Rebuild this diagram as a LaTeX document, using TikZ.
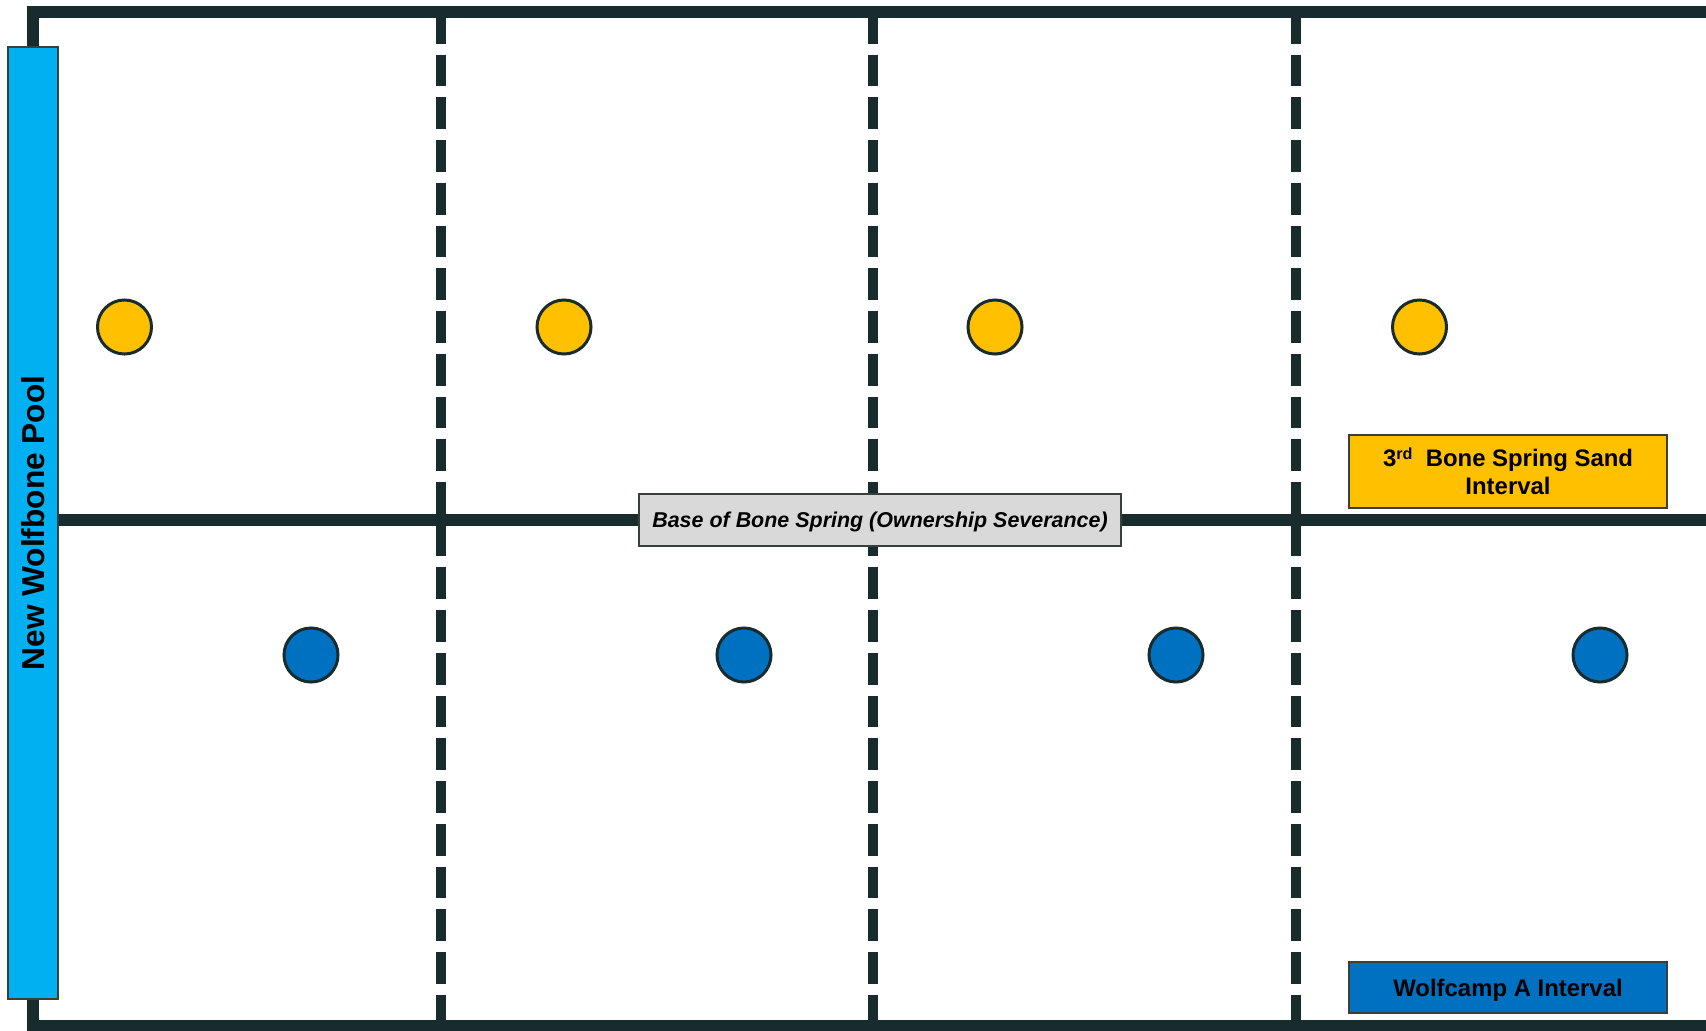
\documentclass[tikz,border=0pt]{standalone}
\usepackage{fontspec}
\setmainfont{Liberation Sans}
\usetikzlibrary{positioning}
\definecolor{cline}{HTML}{182C2E}
\definecolor{cedge}{HTML}{36403F}
\definecolor{cbone}{HTML}{FFC000}
\definecolor{cwolf}{HTML}{0070C0}
\definecolor{cpool}{HTML}{00B0F0}
\definecolor{csev}{HTML}{D9D9D9}
\tikzset{
  every picture/.style={x=0.01cm, y=-0.01cm, font=\bfseries},
  frame/.style={cline, line width=3.4pt},
  unit/.style={cline, line width=2.85pt, dash pattern=on 9.02pt off 3.13pt},
  well/.style={circle, draw=cline, line width=0.85pt, minimum size=0.54cm, inner sep=0pt},
  legend/.style={draw=cedge, line width=0.6pt, minimum width=3.18cm, align=center,
    inner sep=0pt, font=\bfseries\fontsize{6.8}{8}\selectfont},
}
\def\ymid{520}

\begin{document}
\begin{tikzpicture}
  \useasboundingbox (0,0) rectangle (1706,1030);
  \clip (0,0) rectangle (1706,1030);
  % unit boundaries
  \foreach \xu in {441,873,1296}
    \draw[unit] (\xu,12) -- (\xu,1026);
  % lease outline and severance horizon
  \draw[frame] (1720,12) -- (33,12) -- (33,1026) -- (1720,1026);
  \draw[frame] (58,\ymid) -- (1720,\ymid);
  \node[draw=cedge, fill=cpool, line width=0.6pt, rotate=90, minimum width=9.52cm,
    minimum height=0.5cm, font=\bfseries\fontsize{9}{10}\selectfont] (pool) at (33,523) {New Wolfbone Pool};
  \node[draw=cedge, fill=csev, line width=0.6pt, minimum width=4.82cm, minimum height=0.52cm,
    text depth=0pt, font=\bfseries\itshape\fontsize{6.1}{7}\selectfont] (sev) at (880,\ymid) {Base of Bone Spring (Ownership Severance)};
  % wells
  \foreach \i/\xa/\xb in {1/124.5/311, 2/564/744, 3/995/1176, 4/1419.5/1600} {
    \node[well, fill=cbone] (bs\i) at (\xa,327) {};
    \node[well, fill=cwolf] (wc\i) at (\xb,655) {};
  }
  \node[legend, fill=cbone, minimum height=0.73cm] (bsleg) at (1508,471.5)
    {3\raisebox{0.28em}{\fontsize{4.6}{5}\selectfont rd}~ Bone Spring Sand\\Interval};
  \node[legend, fill=cwolf, minimum height=0.51cm, text depth=0pt] (wcleg) at (1508,987.5) {Wolfcamp A Interval};
\end{tikzpicture}
\end{document}
